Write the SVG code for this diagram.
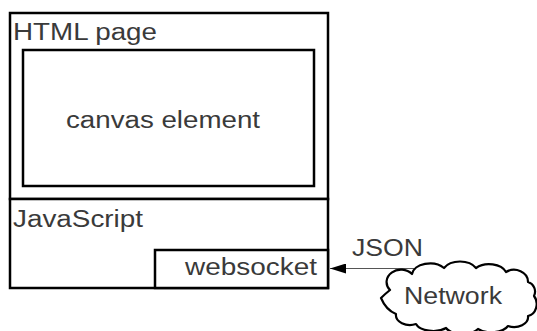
<svg xmlns="http://www.w3.org/2000/svg" width="537" height="331" viewBox="0 0 537 331">
  <defs>
    <style>
      .box { fill: #ffffff; stroke: #000000; stroke-width: 2.5; }
      .lbl { font-family: "Liberation Sans", Arial, sans-serif; font-size: 23px; fill: #3a3a3a; }
      .wire { stroke: #555555; stroke-width: 1.2; fill: none; }
      .cloud { fill: #ffffff; stroke: #000000; stroke-width: 2.2; stroke-linejoin: round; }
    </style>
    <marker id="head" viewBox="0 0 16 10" refX="16" refY="5" markerWidth="16" markerHeight="10" markerUnits="userSpaceOnUse" orient="auto">
      <path d="M0,0 L16,5 L0,10 Z" fill="#000000"/>
    </marker>
  </defs>

  <!-- HTML page container -->
  <g id="html-page">
    <rect class="box" x="10" y="13" width="318" height="186"/>
    <text class="lbl" x="13" y="40" textLength="144" lengthAdjust="spacingAndGlyphs">HTML page</text>
  </g>

  <!-- canvas element inside the page -->
  <g id="canvas-element">
    <rect class="box" x="23" y="50" width="291" height="136"/>
    <text class="lbl" x="66" y="128" textLength="194" lengthAdjust="spacingAndGlyphs">canvas element</text>
  </g>

  <!-- JavaScript section -->
  <g id="javascript">
    <rect class="box" x="10" y="199" width="318" height="89"/>
    <text class="lbl" x="13" y="227" textLength="130" lengthAdjust="spacingAndGlyphs">JavaScript</text>
  </g>

  <!-- websocket box -->
  <g id="websocket">
    <rect class="box" x="155" y="250" width="173" height="38"/>
    <text class="lbl" x="185" y="275" textLength="132" lengthAdjust="spacingAndGlyphs">websocket</text>
  </g>

  <!-- connectors -->
  <g id="connectors">
    <line class="wire" x1="420" y1="268.5" x2="330" y2="268.5" marker-end="url(#head)"/>
    <text class="lbl" x="352" y="256" textLength="71" lengthAdjust="spacingAndGlyphs">JSON</text>
  </g>

  <!-- network cloud -->
  <g id="network">
    <path class="cloud" d="M 390 290
      a 14 12 0 0 1 22 -16
      a 18 12 0 0 1 32 -6
      a 18 12 0 0 1 32 0
      a 18 12 0 0 1 30 4
      a 14 12 0 0 1 22 10
      a 10 10 0 0 1 6 14
      a 10 12 0 0 1 -6 20
      a 14 10 0 0 1 -20 10
      a 18 10 0 0 1 -30 3
      a 18 10 0 0 1 -32 -1
      a 18 10 0 0 1 -30 -4
      a 14 10 0 0 1 -20 -10
      q -10 -4 -15 -16
      q 4 -4 9 -8 Z"/>
    <text class="lbl" x="404" y="304" textLength="98" lengthAdjust="spacingAndGlyphs">Network</text>
  </g>
</svg>
